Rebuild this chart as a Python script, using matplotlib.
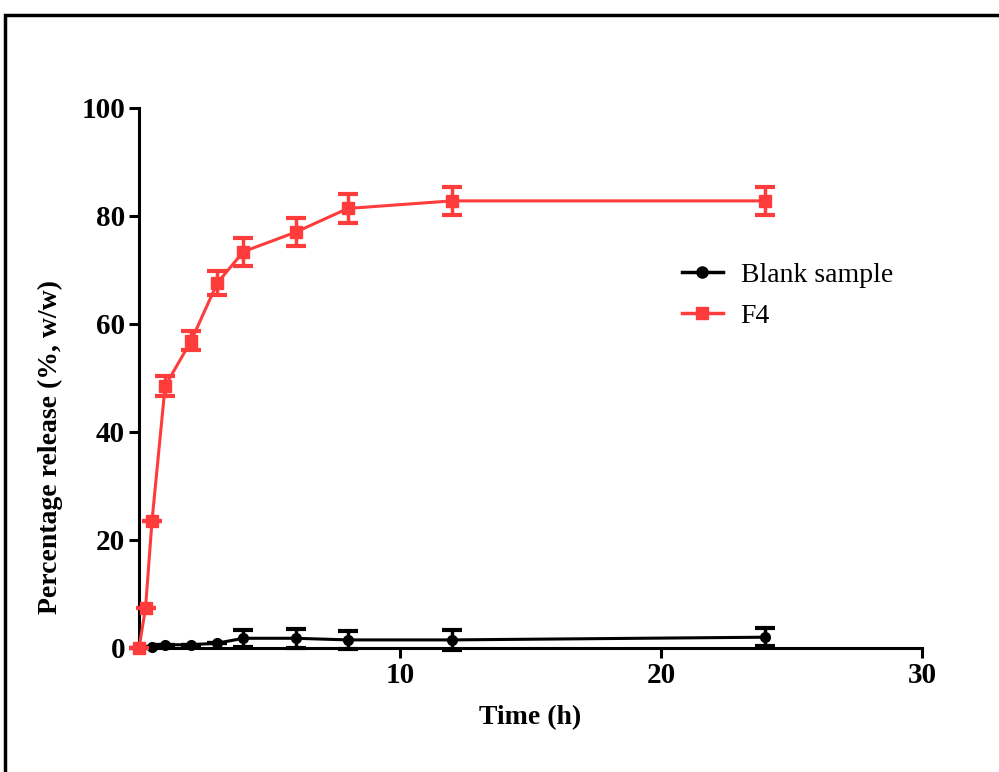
import matplotlib
matplotlib.use("Agg")
import matplotlib.pyplot as plt
from matplotlib.patches import Rectangle
from matplotlib.lines import Line2D

# data
time_f4 = [0, 0.25, 0.5, 1, 2, 3, 4, 6, 8, 12, 24]
f4_mean = [0, 7.4, 23.6, 48.5, 56.9, 67.6, 73.4, 77.0, 81.4, 82.8, 82.8]
f4_err = [0, 0, 0, 1.8, 1.8, 2.2, 2.6, 2.6, 2.7, 2.6, 2.6]

time_blank = [0, 0.5, 1, 2, 3, 4, 6, 8, 12, 24]
blank_mean = [0, 0.1, 0.6, 0.6, 0.9, 1.8, 1.8, 1.5, 1.5, 2.0]
blank_err = [0, 0, 0, 0, 0, 1.6, 1.8, 1.6, 1.9, 1.7]

x_ticks = [10, 20, 30]
y_ticks = [0, 20, 40, 60, 80, 100]

red = "#ff3c3c"

plt.rcParams['font.family'] = ['Liberation Serif', 'DejaVu Serif']

fig = plt.figure(figsize=(9.99, 7.72), dpi=100)
ax = fig.add_axes([139 / 999, 1 - 648 / 772, (922 - 139) / 999, (648 - 108) / 772])

ax.errorbar(time_blank, blank_mean, yerr=blank_err, color="black", lw=2.2,
            marker="o", ms=7, capsize=7, capthick=3, elinewidth=2.5,
            zorder=3, clip_on=False)
ax.errorbar(time_f4, f4_mean, yerr=f4_err, color=red, lw=2.2,
            marker="s", ms=9, capsize=7, capthick=3, elinewidth=2.5,
            zorder=4, clip_on=False)

ax.set_xlim(0, 30)
ax.set_ylim(0, 100)
ax.set_xticks(x_ticks)
ax.set_yticks(y_ticks)
for s in ["top", "right"]:
    ax.spines[s].set_visible(False)
for s in ["left", "bottom"]:
    ax.spines[s].set_linewidth(2.2)
ax.tick_params(direction="out", length=7, width=2.2, labelsize=21, pad=3)
for lab in ax.get_xticklabels() + ax.get_yticklabels():
    lab.set_fontweight("bold")

ax.set_xlabel("Time (h)", fontsize=20, fontweight="bold", labelpad=12)
ax.set_ylabel("Percentage release (%, w/w)", fontsize=20, fontweight="bold")
ax.yaxis.set_label_coords(-0.097, 0.372)

handles = [Line2D([], [], color="black", lw=2.5, marker="o", ms=8),
           Line2D([], [], color=red, lw=2.5, marker="s", ms=9)]
ax.legend(handles, ["Blank sample", "F4"], loc="upper left",
          bbox_to_anchor=(0.662, 0.76), frameon=False, fontsize=20,
          handlelength=1.45, labelspacing=0.55, handletextpad=0.65)

# outer frame like the pasted figure border
fig.patches.append(Rectangle((5 / 999, -0.05), 1.1, (772 - 15) / 772 + 0.05,
                             transform=fig.transFigure, fill=False,
                             edgecolor="black", lw=2.5))

fig.savefig("out.png", dpi=100)
